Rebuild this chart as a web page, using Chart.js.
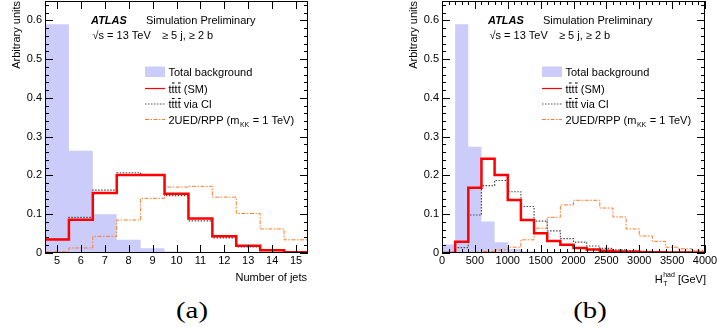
<!DOCTYPE html>
<html>
<head>
<meta charset="utf-8">
<script src="https://cdn.jsdelivr.net/npm/chart.js@4/dist/chart.umd.min.js"></script>
<style>
  body { margin: 0; background: #fff; }
  #wrap { position: relative; width: 719px; height: 331px; overflow: hidden; background: #fff; }
  canvas { position: absolute; top: 0; }
  .cap { position: absolute; top: 299px; width: 60px; text-align: center; line-height: 23px;
         font-family: "Liberation Serif", "Times New Roman", serif; font-size: 23px; font-weight: normal;
         color: #000; transform: scaleX(1.25); }
</style>
</head>
<body>
<div id="wrap">
  <canvas id="jets" width="322" height="290" style="left:0px"></canvas>
  <canvas id="ht" width="322" height="290" style="left:397px"></canvas>
  <div class="cap" style="left:162px">(a)</div>
  <div class="cap" style="left:560px">(b)</div>
</div>
<script>
// panel (a): number of jets
var jetEdges = [4.5, 5.5, 6.5, 7.5, 8.5, 9.5, 10.5, 11.5, 12.5, 13.5, 14.5, 15.5];
var jetTicks = [5, 6, 7, 8, 9, 10, 11, 12, 13, 14, 15];
var jetBkg = [0.590, 0.264, 0.100, 0.034, 0.012, 0.004, 0.0015, 0.0005, 0.0002, 0.0001, 0];
var jetSM  = [0.035, 0.086, 0.155, 0.201, 0.201, 0.153, 0.089, 0.043, 0.019, 0.007, 0.002];
var jetCI  = [0.036, 0.092, 0.162, 0.207, 0.200, 0.148, 0.083, 0.039, 0.016, 0.006, 0.002];
var jetUED = [0.003, 0.013, 0.043, 0.085, 0.141, 0.170, 0.172, 0.144, 0.102, 0.062, 0.034];

// panel (b): HT(had) in GeV, 200 GeV bins
var htEdges = [0, 200, 400, 600, 800, 1000, 1200, 1400, 1600, 1800, 2000,
               2200, 2400, 2600, 2800, 3000, 3200, 3400, 3600, 3800, 4000];
var htTicks = [0, 500, 1000, 1500, 2000, 2500, 3000, 3500, 4000];
var htBkg = [0.022, 0.590, 0.274, 0.081, 0.028, 0.010, 0.004, 0.002, 0.001, 0.0005,
             0.0003, 0.0002, 0.0001, 0, 0, 0, 0, 0, 0, 0];
var htSM  = [0, 0.029, 0.168, 0.243, 0.201, 0.137, 0.085, 0.051, 0.031, 0.021,
             0.013, 0.009, 0.006, 0.004, 0.003, 0.002, 0.002, 0.001, 0.001, 0.001];
var htCI  = [0, 0.014, 0.098, 0.174, 0.187, 0.158, 0.120, 0.082, 0.057, 0.037,
             0.028, 0.018, 0.012, 0.008, 0.006, 0.004, 0.003, 0.002, 0.002, 0.001];
var htUED = [0, 0.001, 0.002, 0.004, 0.008, 0.015, 0.034, 0.064, 0.092, 0.124,
             0.136, 0.136, 0.116, 0.093, 0.062, 0.044, 0.030, 0.015, 0.011, 0.007];

var yTicks = [0, 0.1, 0.2, 0.3, 0.4, 0.5, 0.6];

var FONT = '"Liberation Sans", Arial, Helvetica, sans-serif';
var BKG = 'rgb(204, 204, 250)';
var RED = '#ff0000';
var GREY = '#4a4a4a';
var ORANGE = '#ff7a2a';

Chart.defaults.font.family = FONT;
Chart.defaults.color = '#000';

function histPoints(edges, vals) {
    var pts = vals.map(function(v, i) { return {x: edges[i], y: v}; });
    pts.push({x: edges[edges.length - 1], y: vals[vals.length - 1]});
    return pts;
}

function range(a, b, step) {
    var out = [];
    for (var v = a; v <= b + step / 1000; v += step) out.push(Math.round(v * 1000) / 1000);
    return out;
}

// t tbar t tbar with bars drawn by hand
function drawTTTT(ctx, x, y, rest) {
    var w = ctx.measureText('t').width;
    ctx.fillText('tttt' + rest, x, y);
    ctx.fillRect(x + w + 0.3, y - 10, w - 0.3, 1);
    ctx.fillRect(x + 3 * w + 0.3, y - 10, w - 0.3, 1);
}

function drawLabels(ctx) {
    ctx.fillStyle = '#000';
    ctx.textAlign = 'left';
    ctx.textBaseline = 'alphabetic';
    ctx.font = 'italic bold 11px ' + FONT;
    ctx.fillText('ATLAS', 91, 24);
    ctx.font = '11px ' + FONT;
    ctx.fillText('Simulation Preliminary', 146, 24);
    ctx.fillText('\u221As = 13 TeV', 92.5, 39);
    ctx.fillText('\u2265 5 j, \u2265 2 b', 162, 39);

    // legend
    ctx.fillStyle = BKG;
    ctx.fillRect(145, 66.5, 20, 10.5);
    ctx.fillStyle = '#000';
    ctx.fillText('Total background', 168.5, 75.5);
    drawTTTT(ctx, 168.5, 92.5, ' (SM)');
    drawTTTT(ctx, 168.5, 108, ' via CI');
    var t = '2UED/RPP (m';
    ctx.fillText(t, 168.5, 123.5);
    var x = 168.5 + ctx.measureText(t).width;
    ctx.font = '7px ' + FONT;
    ctx.fillText('KK', x + 0.5, 127);
    x += ctx.measureText('KK').width + 1;
    ctx.font = '11px ' + FONT;
    ctx.fillText(' = 1 TeV)', x, 123.5);

    ctx.lineWidth = 1.2;
    ctx.strokeStyle = RED;
    ctx.beginPath(); ctx.moveTo(145, 88.5); ctx.lineTo(165, 88.5); ctx.stroke();
    ctx.lineWidth = 1;
    ctx.strokeStyle = GREY;
    ctx.setLineDash([1.5, 1.5]);
    ctx.beginPath(); ctx.moveTo(145, 104); ctx.lineTo(165, 104); ctx.stroke();
    ctx.strokeStyle = ORANGE;
    ctx.setLineDash([4, 1.5, 1.5, 1.5]);
    ctx.beginPath(); ctx.moveTo(145, 119.5); ctx.lineTo(165, 119.5); ctx.stroke();
    ctx.setLineDash([]);

    // y title
    ctx.save();
    ctx.translate(20, 0);
    ctx.rotate(-Math.PI / 2);
    ctx.textAlign = 'right';
    ctx.font = '11px ' + FONT;
    ctx.fillText('Arbitrary units', -1, 0);
    ctx.restore();
}

var framePlugin = {
    id: 'frame',
    afterDatasetsDraw: function(chart, args, opts) {
        var ctx = chart.ctx, a = chart.chartArea;
        var xs = chart.scales.x, ys = chart.scales.y;
        ctx.save();
        ctx.strokeStyle = '#000';
        ctx.lineWidth = 1;
        ctx.strokeRect(a.left + 0.5, a.top + 0.5, a.right - a.left - 1, a.bottom - a.top - 1);
        ctx.beginPath();
        function xTick(v, len) {
            var px = Math.round(xs.getPixelForValue(v)) + 0.5;
            ctx.moveTo(px, a.bottom); ctx.lineTo(px, a.bottom - len);
            ctx.moveTo(px, a.top); ctx.lineTo(px, a.top + len);
        }
        function yTick(v, len) {
            var py = Math.round(ys.getPixelForValue(v)) + 0.5;
            ctx.moveTo(a.left, py); ctx.lineTo(a.left + len, py);
            ctx.moveTo(a.right, py); ctx.lineTo(a.right - len, py);
        }
        opts.xMajor.forEach(function(v) { xTick(v, 8); });
        opts.xMinor.forEach(function(v) { xTick(v, 4); });
        yTicks.forEach(function(v) { yTick(v, 8); });
        range(0, 0.64, 0.02).forEach(function(v) { yTick(v, 4); });
        ctx.stroke();
        ctx.restore();
    },
    afterDraw: function(chart, args, opts) {
        var ctx = chart.ctx;
        ctx.save();
        drawLabels(ctx);
        opts.xTitle(ctx);
        ctx.restore();
    }
};

function plainLabel(value) { return String(value); }

function makePanel(id, edges, ticks, bkg, sm, ci, ued, frameOpts) {
    var ctx = document.getElementById(id).getContext('2d');
    return new Chart(ctx, {
        type: 'line',
        data: {
            datasets: [{
                label: 'Total background',
                data: histPoints(edges, bkg),
                stepped: true,
                fill: 'origin',
                backgroundColor: BKG,
                borderColor: 'rgba(0,0,0,0)',
                borderWidth: 1,
                pointRadius: 0,
                order: 4
            }, {
                label: '2UED/RPP',
                data: histPoints(edges, ued),
                stepped: true,
                fill: false,
                borderColor: ORANGE,
                borderWidth: 1,
                borderDash: [4, 1.5, 1.5, 1.5],
                pointRadius: 0,
                order: 3
            }, {
                label: 'tttt via CI',
                data: histPoints(edges, ci),
                stepped: true,
                fill: false,
                borderColor: GREY,
                borderWidth: 1.2,
                borderDash: [1.5, 1.5],
                pointRadius: 0,
                order: 2
            }, {
                label: 'tttt (SM)',
                data: histPoints(edges, sm),
                stepped: true,
                fill: false,
                borderColor: RED,
                borderWidth: 2.5,
                pointRadius: 0,
                order: 1
            }]
        },
        options: {
            responsive: false,
            animation: false,
            layout: { padding: { top: 1, right: 14, left: 0, bottom: 0 } },
            plugins: {
                legend: { display: false },
                tooltip: { enabled: false },
                frame: frameOpts
            },
            scales: {
                x: {
                    type: 'linear',
                    min: edges[0],
                    max: edges[edges.length - 1],
                    grid: { display: false, drawTicks: false, tickLength: 0 },
                    border: { display: false },
                    ticks: { font: { size: 11 }, padding: 1, maxRotation: 0, autoSkip: false,
                             color: '#000', callback: plainLabel },
                    afterBuildTicks: function(s) { s.ticks = ticks.map(function(v) { return {value: v}; }); },
                    afterFit: function(s) {
                        s.height = 37;
                        s.paddingLeft = 0; s.paddingRight = 0;
                    }
                },
                y: {
                    type: 'linear',
                    min: 0,
                    max: 0.65,
                    grid: { display: false, drawTicks: false, tickLength: 0 },
                    border: { display: false },
                    ticks: { font: { size: 11 }, padding: 3, color: '#000', callback: plainLabel },
                    afterBuildTicks: function(s) { s.ticks = yTicks.map(function(v) { return {value: v}; }); },
                    afterFit: function(s) {
                        s.width = 45;
                        s.paddingTop = 0; s.paddingBottom = 0;
                    }
                }
            }
        },
        plugins: [framePlugin]
    });
}

makePanel('jets', jetEdges, jetTicks, jetBkg, jetSM, jetCI, jetUED, {
    xMajor: jetTicks,
    xMinor: [],
    xTitle: function(ctx) {
        ctx.fillStyle = '#000';
        ctx.font = '11px ' + FONT;
        ctx.textAlign = 'right';
        ctx.fillText('Number of jets', 307, 281);
    }
});

makePanel('ht', htEdges, htTicks, htBkg, htSM, htCI, htUED, {
    xMajor: htTicks,
    xMinor: range(0, 4000, 100),
    xTitle: function(ctx) {
        ctx.fillStyle = '#000';
        ctx.textAlign = 'left';
        ctx.font = '11px ' + FONT;
        var tail = ' [GeV]';
        var wTail = ctx.measureText(tail).width;
        ctx.font = '7px ' + FONT;
        var wSup = ctx.measureText('had').width;
        ctx.font = '11px ' + FONT;
        var wH = ctx.measureText('H').width;
        var x0 = 309 - wTail - wSup - wH - 0.5;
        ctx.fillText('H', x0, 283);
        ctx.fillText(tail, x0 + wH + wSup + 0.5, 283);
        ctx.font = '7px ' + FONT;
        ctx.fillText('had', x0 + wH + 0.5, 277);
        ctx.fillText('T', x0 + wH + 0.5, 286);
    }
});
</script>
</body>
</html>
